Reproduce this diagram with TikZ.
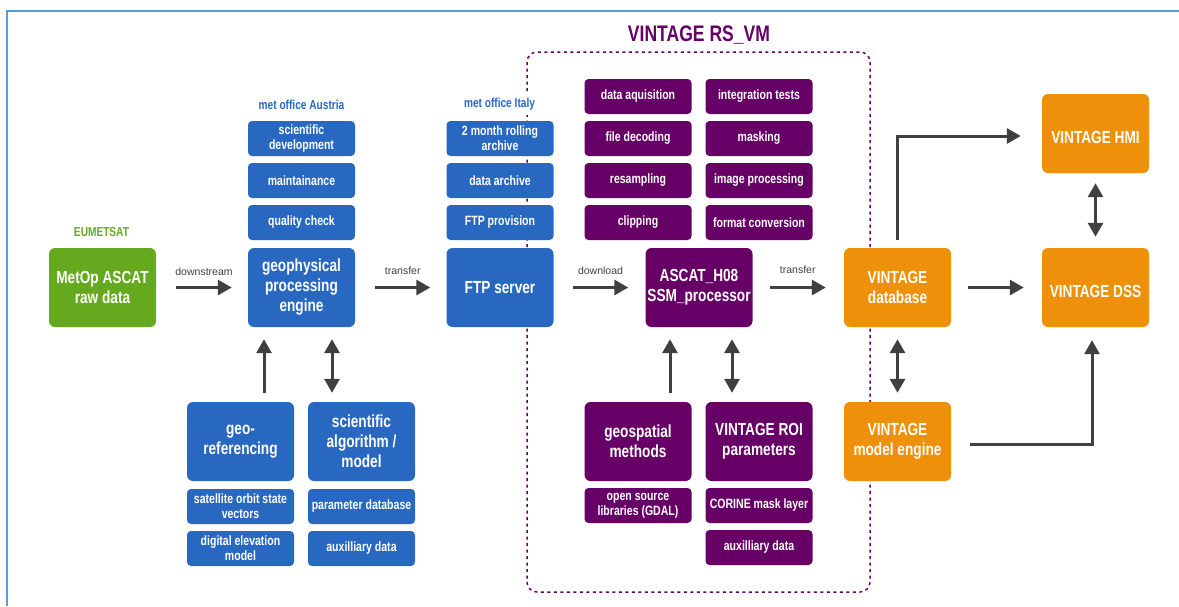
\documentclass[tikz,border=0pt]{standalone}
\usepackage{fontspec}
\setmainfont{Liberation Sans}[FakeStretch=0.78]
\newfontfamily\plainlabel{Liberation Sans}
\usetikzlibrary{arrows.meta}

\definecolor{cblue}{RGB}{40,104,193}
\definecolor{cgreen}{RGB}{101,170,30}
\definecolor{cpurple}{RGB}{102,0,102}
\definecolor{corange}{RGB}{239,144,10}
\definecolor{carrow}{RGB}{64,64,64}
\definecolor{cframe}{RGB}{91,155,213}

\newcommand\boxbig{\fontsize{17.5}{20}\selectfont\bfseries}
\newcommand\boxsmall{\fontsize{13.5}{15}\selectfont\bfseries}
\newcommand\headtxt{\fontsize{13}{15}\selectfont\bfseries}
\newcommand\titletxt{\fontsize{22.5}{26}\selectfont\bfseries}
\newcommand\flowtxt{\plainlabel\fontsize{10.5}{12}\selectfont}

\tikzset{
  big/.style={rounded corners=6pt, minimum width=107pt, minimum height=79pt,
    inner sep=0pt, align=center, text=white, font=\boxbig,
    execute at begin node=\rule{0pt}{12.6pt}},
  lowtext/.style={execute at begin node=\rule{0pt}{20.5pt}},
  small/.style={rounded corners=4pt, minimum width=107pt, minimum height=35pt,
    inner sep=0pt, align=center, text=white, font=\boxsmall},
  bl/.style={fill=cblue}, gr/.style={fill=cgreen},
  pu/.style={fill=cpurple}, or/.style={fill=corange},
  arr/.style={draw=carrow, line width=3pt, -{Triangle[length=14pt,width=15pt]}},
  darr/.style={draw=carrow, line width=3pt,
    {Triangle[length=14pt,width=15pt]}-{Triangle[length=14pt,width=15pt]}},
  flowlabel/.style={font=\flowtxt, text=carrow, inner sep=0pt},
  head/.style={font=\headtxt, inner sep=0pt},
}

\begin{document}
\begin{tikzpicture}[x=1pt, y=-1pt]
\useasboundingbox (0,0) rectangle (1179,606);
\fill[white] (0,0) rectangle (1179,606);
\draw[cframe, line width=2pt] (7,606) -- (7,11) -- (1179,11);

% dashed frame of the remote-sensing VM
\draw[cpurple, line width=1.5pt, dash pattern=on 3pt off 3.5pt, rounded corners=10pt]
  (527,52) rectangle (870,592);
\node[font=\titletxt, text=cpurple, inner sep=0pt] (vmtitle) at (699,35) {VINTAGE RS\_VM};

% source
\node[head, text=cgreen] (eumlabel) at (101.5,232) {EUMETSAT};
\node[big, gr] (raw) at (102.5,287.5) {MetOp ASCAT\\raw data};

% Austrian met office
\node[head, text=cblue] (atlabel) at (301.5,105) {met office Austria};
\node[small, bl] (sd) at (301.5,138.5) {scientific\\development};
\node[small, bl] (maint) at (301.5,180.5) {maintainance};
\node[small, bl] (qc) at (301.5,222.5) {quality check};
\node[big, bl] (engine) at (301.5,287.5) {geophysical\\processing\\engine};
\node[big, bl] (geo) at (240.5,441.5) {geo-\\referencing};
\node[big, bl] (sci) at (361.5,441.5) {scientific\\algorithm /\\model};
\node[small, bl] (sat) at (240.5,506.5) {satellite orbit state\\vectors};
\node[small, bl] (dem) at (240.5,548.5) {digital elevation\\model};
\node[small, bl] (par) at (361.5,506.5) {parameter database};
\node[small, bl] (aux) at (361.5,548.5) {auxilliary data};

% Italian met office
\node[head, text=cblue, fill=white, inner xsep=6pt, inner ysep=5pt] (itlabel) at (499.5,104) {met office Italy};
\node[small, bl] (roll) at (500,138.5) {2 month rolling\\archive};
\node[small, bl] (arch) at (500,180.5) {data archive};
\node[small, bl] (prov) at (500,222.5) {FTP provision};
\node[big, bl] (ftp) at (500,287.5) {FTP server};

% processing steps of the VM
\node[small, pu] (acq) at (638,96.5) {data aquisition};
\node[small, pu] (dec) at (638,138.5) {file decoding};
\node[small, pu] (res) at (638,180.5) {resampling};
\node[small, pu] (clip) at (638,222.5) {clipping};
\node[small, pu] (integ) at (759,96.5) {integration tests};
\node[small, pu] (mask) at (759,138.5) {masking};
\node[small, pu] (imgp) at (759,180.5) {image processing};
\node[small, pu] (conv) at (759,222.5) {format conversion};
\node[big, pu] (ascat) at (699,287.5) {ASCAT\_H08\\SSM\_processor};
\node[big, pu] (geosp) at (638,441.5) {geospatial\\methods};
\node[big, pu] (roi) at (759,441.5) {VINTAGE ROI\\parameters};
\node[small, pu] (gdal) at (638,505.5) {open source\\libraries (GDAL)};
\node[small, pu] (corine) at (759,505.5) {CORINE mask layer};
\node[small, pu] (aux2) at (759,547.5) {auxilliary data};

% VINTAGE system
\node[big, or] (db) at (897.5,287.5) {VINTAGE\\database};
\node[big, or] (meng) at (897.5,441.5) {VINTAGE\\model engine};
\node[big, or, lowtext] (hmi) at (1095.5,133.5) {VINTAGE HMI};
\node[big, or, lowtext] (dss) at (1095.5,287.5) {VINTAGE DSS};

% main data flow
\draw[arr] ([xshift=20pt]raw.east) -- node[flowlabel, above=10pt] {downstream} ([xshift=-16pt]engine.west);
\draw[arr] ([xshift=20pt]engine.east) -- node[flowlabel, above=11pt] {transfer} ([xshift=-16pt]ftp.west);
\draw[arr] ([xshift=19pt]ftp.east) -- node[flowlabel, above=11pt] {download} ([xshift=-17pt]ascat.west);
\draw[arr] ([xshift=17pt]ascat.east) -- node[flowlabel, above=12pt] {transfer} ([xshift=-18pt]db.west);
\draw[arr] ([xshift=17pt]db.east) -- ([xshift=-18pt]dss.west);
\draw[arr] ([yshift=8pt]db.north) |- ([xshift=-21pt,yshift=-2.5pt]hmi.west);
\draw[darr] ([yshift=-10pt]hmi.south) -- ([yshift=11pt]dss.north);
\draw[darr] ([yshift=-12pt]db.south) -- ([yshift=9pt]meng.north);
\draw[arr] ([xshift=19pt,yshift=-2.5pt]meng.east) -| ([xshift=-3.5pt,yshift=-13pt]dss.south);

% inputs to the processors
\draw[arr] ([xshift=23.5pt,yshift=9pt]geo.north) -- ([xshift=-37.5pt,yshift=-12pt]engine.south);
\draw[darr] ([xshift=-29.5pt,yshift=9pt]sci.north) -- ([xshift=30.5pt,yshift=-12pt]engine.south);
\draw[arr] ([xshift=32pt,yshift=9pt]geosp.north) -- ([xshift=-29pt,yshift=-12pt]ascat.south);
\draw[darr] ([xshift=-27pt,yshift=9pt]roi.north) -- ([xshift=33pt,yshift=-12pt]ascat.south);
\end{tikzpicture}
\end{document}
